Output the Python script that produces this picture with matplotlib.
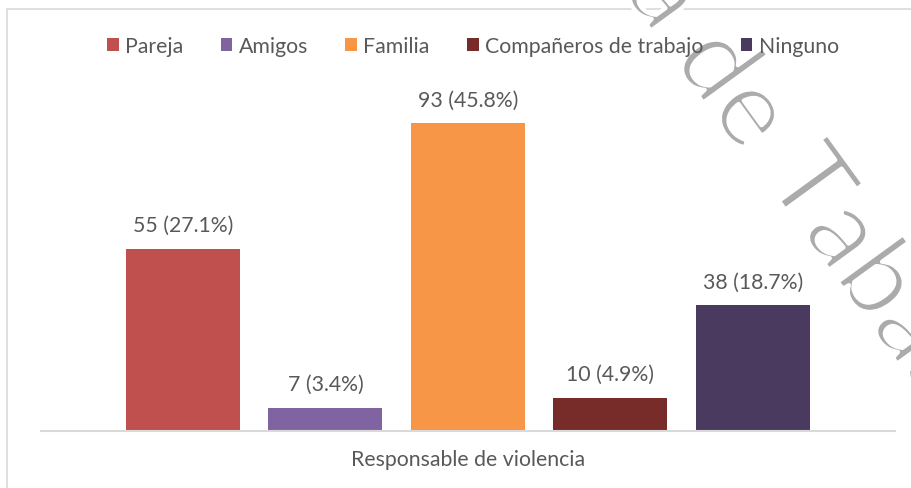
import matplotlib.pyplot as plt
import matplotlib.patheffects as pe
from matplotlib.patches import Patch, Rectangle

categorias = ['Pareja', 'Amigos', 'Familia', 'Compañeros de trabajo', 'Ninguno']
valores = [55, 7, 93, 10, 38]
porcentajes = [27.1, 3.4, 45.8, 4.9, 18.7]
colores = ['#C0504D', '#8064A2', '#F79646', '#772C2A', '#4B3A5F']
titulo_x = 'Responsable de violencia'

plt.rcParams['font.family'] = ['Lato', 'DejaVu Sans']
texto = '#595959'
fs = 15.3
W, H = 912, 489

fig = plt.figure(figsize=(W / 100, H / 100), dpi=100)
ax = fig.add_axes([40.5 / W, 1 - 432 / H, (895.5 - 40.5) / W, (432 - 101) / H])

# chart area border (cropped on right/bottom)
fig.patches.append(Rectangle((7 / W, -0.1), 1.2, 1 - 10 / H + 0.1, transform=fig.transFigure,
                             fill=False, edgecolor='#D9D9D9', lw=1.2))

pos = list(range(len(categorias)))
barras = ax.bar(pos, valores, width=0.8, color=colores)
for x, v, p in zip(pos, valores, porcentajes):
    ax.annotate(f'{v} ({p}%)', (x, v), xytext=(0, 17), textcoords='offset points',
                ha='center', va='center', fontsize=fs, color=texto)

ax.set_xlim(-1, 5)
ax.set_ylim(0, 100)
ax.set_xticks([])
ax.set_yticks([])
for s in ['top', 'right', 'left']:
    ax.spines[s].set_visible(False)
ax.spines['bottom'].set_color('#D9D9D9')
ax.spines['bottom'].set_linewidth(1.5)
ax.set_xlabel(titulo_x, fontsize=fs, color=texto, labelpad=13)

handles = [Patch(facecolor=c, edgecolor='none') for c in colores]
fig.legend(handles, categorias, loc='center', bbox_to_anchor=(473 / W, 1 - 47 / H), ncol=5,
           frameon=False, fontsize=fs, labelcolor=texto, handlelength=0.55, handleheight=0.55,
           handletextpad=0.3, columnspacing=1.75)

# watermark (regular glyphs thinned with a white edge)
marca = dict(rotation=-54, rotation_mode='anchor', fontsize=79, color='#ABABAB',
             va='baseline', transform=fig.transFigure, zorder=1,
             path_effects=[pe.Normal(), pe.Stroke(linewidth=3, foreground='white')])
fig.text(742 / W, 1 - 157 / H, 'Autónoma de', ha='right', **marca)
fig.text(763 / W, 1 - 180 / H, 'Tabasco', ha='left', **marca)

fig.savefig('out.png', dpi=100)
